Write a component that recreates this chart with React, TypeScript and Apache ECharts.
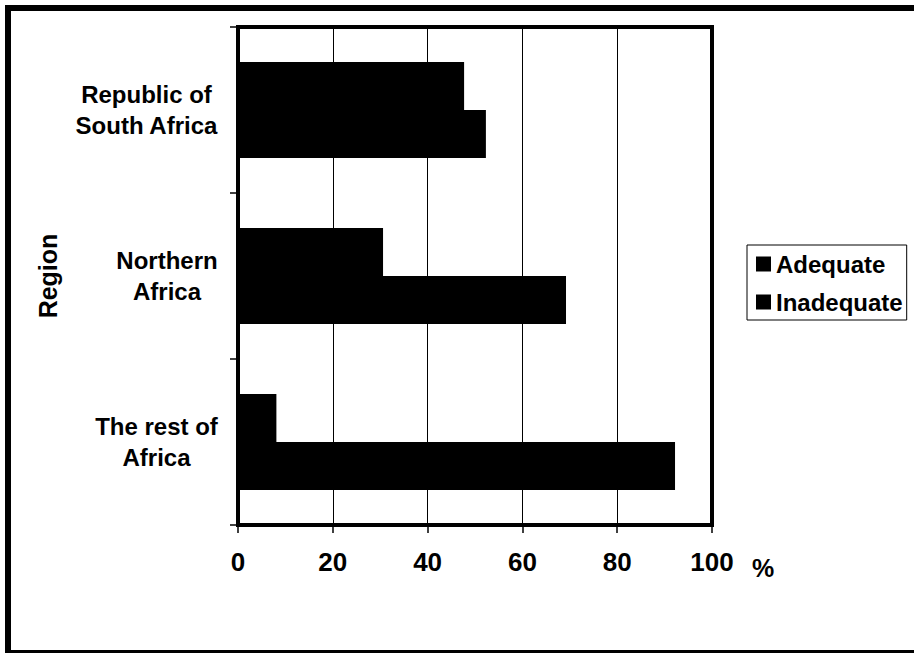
import React, { useEffect, useRef } from "react";
import * as echarts from "echarts";

// Regions, each label split into the lines it is printed on
const regionLines: string[][] = [
  ["Republic of", "South Africa"],
  ["Northern", "Africa"],
  ["The rest of", "Africa"],
];
const regions = regionLines.map((l) => l.join(" "));

// Share of respondents (%)
const adequate = [47.7, 30.6, 8.1];
const inadequate = [52.3, 69.2, 92.2];

const seriesNames = ["Adequate", "Inadequate"];

const xMin = 0;
const xMax = 100;
const xStep = 20;

const FONT = "'Liberation Sans', Arial, Helvetica, sans-serif";

function measure(text: string, size: number): number {
  const c = document.createElement("canvas").getContext("2d");
  if (!c) return text.length * size * 0.55;
  c.font = `bold ${size}px ${FONT}`;
  return c.measureText(text).width;
}

export default function App() {
  const ref = useRef<HTMLDivElement>(null);

  useEffect(() => {
    if (!ref.current) return;
    const chart = echarts.init(ref.current, undefined, { renderer: "svg" });

    // one rich style per region so every line is centred in a block as wide as its longest line
    const rich: Record<string, any> = {};
    regionLines.forEach((lines, i) => {
      const w = Math.ceil(Math.max(...lines.map((t) => measure(t, 24))));
      rich["r" + i] = {
        width: w,
        align: "center",
        fontSize: 24,
        fontWeight: "bold",
        fontFamily: FONT,
        color: "#000",
        lineHeight: 31,
      };
    });

    chart.setOption({
      animation: false,
      backgroundColor: "#fff",
      textStyle: { fontFamily: FONT },
      graphic: [
        {
          type: "rect",
          shape: { x: 8, y: 8, width: 930, height: 645 },
          style: { fill: "none", stroke: "#000", lineWidth: 6 },
          silent: true,
        },
      ],
      legend: {
        data: seriesNames,
        orient: "vertical",
        left: 747,
        top: 245,
        icon: "rect",
        itemWidth: 15,
        itemHeight: 15,
        itemGap: 14,
        padding: [7, 4, 6, 9],
        borderColor: "#000",
        borderWidth: 1,
        borderRadius: 0,
        textStyle: {
          fontSize: 24,
          fontWeight: "bold",
          fontFamily: FONT,
          color: "#000",
        },
      },
      grid: {
        left: 238,
        right: 914 - 712,
        top: 27,
        bottom: 653 - 525,
        show: true,
        borderColor: "#000",
        borderWidth: 4,
        backgroundColor: "transparent",
      },
      xAxis: {
        type: "value",
        min: xMin,
        max: xMax,
        interval: xStep,
        name: "%",
        nameLocation: "end",
        nameGap: 40,
        nameTextStyle: {
          fontSize: 25,
          fontWeight: "bold",
          fontFamily: FONT,
          color: "#000",
          verticalAlign: "top",
          padding: [30, 0, 0, 0],
        },
        axisLine: { show: true, lineStyle: { color: "#000", width: 4 } },
        axisTick: { show: true, length: 8, lineStyle: { color: "#000", width: 1.5 } },
        splitLine: { show: true, lineStyle: { color: "#000", width: 1 } },
        axisLabel: {
          margin: 24,
          fontSize: 26,
          fontWeight: "bold",
          fontFamily: FONT,
          color: "#000",
        },
      },
      yAxis: {
        type: "category",
        data: regions,
        inverse: true,
        name: "Region",
        nameLocation: "middle",
        nameRotate: 90,
        nameGap: 190,
        nameTextStyle: {
          fontSize: 25,
          fontWeight: "bold",
          fontFamily: FONT,
          color: "#000",
          verticalAlign: "middle",
          align: "center",
        },
        axisLine: { show: true, lineStyle: { color: "#000", width: 4 } },
        axisTick: { show: true, length: 8, lineStyle: { color: "#000", width: 1.5 } },
        splitLine: { show: false },
        axisLabel: {
          margin: 20,
          align: "right",
          formatter: (_v: string, i: number) =>
            regionLines[i].map((t) => `{r${i}|${t}}`).join("\n"),
          rich,
        },
      },
      series: [
        {
          name: seriesNames[0],
          type: "bar",
          data: adequate,
          barWidth: 48,
          barGap: "0%",
          itemStyle: { color: "#000" },
        },
        {
          name: seriesNames[1],
          type: "bar",
          data: inadequate,
          barWidth: 48,
          barGap: "0%",
          itemStyle: { color: "#000" },
        },
      ],
    });

    return () => chart.dispose();
  }, []);

  return (
    <div
      ref={ref}
      style={{ position: "fixed", left: 0, top: 0, width: 914, height: 653 }}
    />
  );
}
